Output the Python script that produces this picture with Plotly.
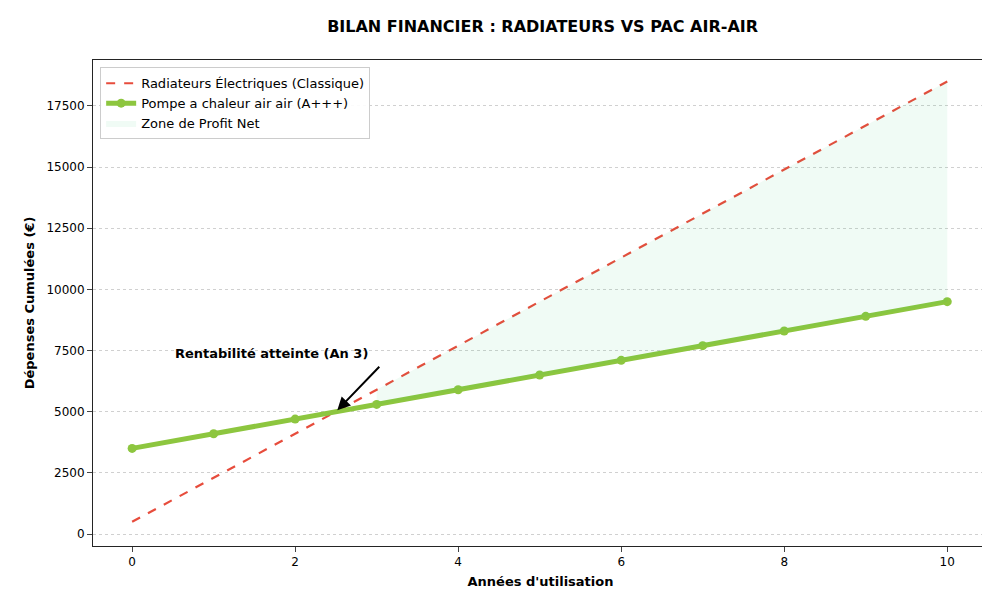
import plotly.graph_objects as go

annees = list(range(11))
radiateurs = [500 + 1800 * a for a in annees]
pac = [3500 + 600 * a for a in annees]
zone_x = annees[3:]
zone_pac = pac[3:]
zone_rad = radiateurs[3:]

fig = go.Figure()
fig.add_trace(go.Scatter(x=annees, y=radiateurs, mode="lines", name="Radiateurs Électriques (Classique)",
                         line=dict(color="#e74c3c", width=2.2, dash="dash")))
fig.add_trace(go.Scatter(x=annees, y=pac, mode="lines+markers", name="Pompe a chaleur air air (A+++)",
                         line=dict(color="#8dc63f", width=5), marker=dict(size=9, color="#8dc63f")))
fig.add_trace(go.Scatter(x=zone_x, y=zone_pac, mode="lines", line=dict(width=0), showlegend=False, hoverinfo="skip"))
fig.add_trace(go.Scatter(x=zone_x, y=zone_rad, mode="lines", line=dict(width=0), fill="tonexty",
                         fillcolor="rgba(46,204,113,0.07)", name="Zone de Profit Net"))

# flèche
fig.add_annotation(x=2.5, y=5000, ax=3.05, ay=6900, axref="x", ayref="y", text="",
                   showarrow=True, arrowhead=2, arrowsize=1.3, arrowwidth=2, arrowcolor="black", standoff=2)
fig.add_annotation(x=0.5, y=7000, xanchor="left", yanchor="bottom", showarrow=False,
                   text="<b>Rentabilité atteinte (An 3)</b>", font=dict(size=13, color="black"))

fig.update_layout(
    width=990, height=589, template="simple_white",
    font=dict(family="DejaVu Sans", size=12, color="black"),
    title=dict(text="<b>BILAN FINANCIER : RADIATEURS VS PAC AIR-AIR</b>", x=0.54, xanchor="center",
               yref="container", y=0.969, yanchor="middle", font=dict(size=16)),
    margin=dict(l=85, r=10, t=52, b=51),
    legend=dict(x=0.008, y=0.985, xanchor="left", yanchor="top", bordercolor="#cccccc", borderwidth=1,
                traceorder="normal", bgcolor="rgba(255,255,255,0.9)", font=dict(size=13)),
    xaxis=dict(title=dict(text="<b>Années d'utilisation</b>", font=dict(size=13), standoff=8), range=[-0.48, 10.5],
               tickvals=[0, 2, 4, 6, 8, 10], ticks="outside", mirror=True, showline=True, showgrid=False, zeroline=False),
    yaxis=dict(title=dict(text="<b>Dépenses Cumulées (€)</b>", font=dict(size=13), standoff=8), range=[-490, 19380],
               tickvals=[0, 2500, 5000, 7500, 10000, 12500, 15000, 17500], tickformat="d", ticks="outside", mirror=True,
               showline=True, showgrid=True, gridcolor="#d0d0d0", griddash="dot", zeroline=False),
)

fig.write_html("out.html")
